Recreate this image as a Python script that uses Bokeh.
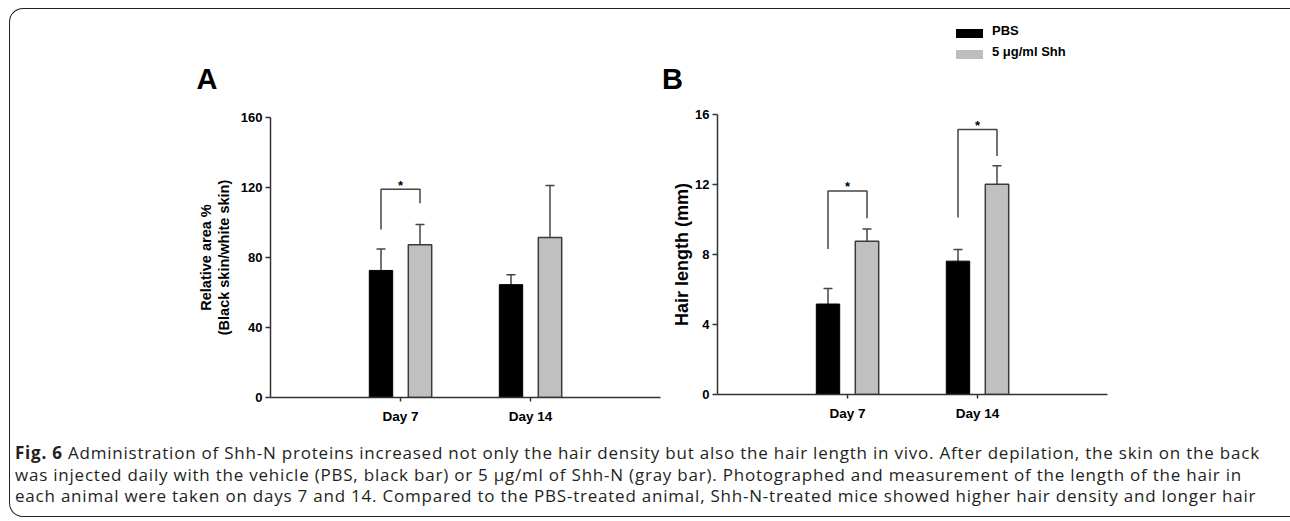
from bokeh.plotting import figure
from bokeh.models import (Range1d, FixedTicker, ColumnDataSource, Whisker, TeeHead,
                          Div, InlineStyleSheet)
from bokeh.layouts import row, column
from bokeh.core.properties import value
from bokeh.embed import file_html
from bokeh.resources import INLINE

# ---------------- data ----------------
days = ["Day 7", "Day 14"]
day_pos = [1, 2]

# Panel A: relative area % (black skin / white skin)
area_pbs = [72.6, 64.5]
area_pbs_err = [84.8, 70.1]
area_shh = [87.3, 91.5]
area_shh_err = [98.9, 121.1]
area_ticks = [0, 40, 80, 120, 160]

# Panel B: hair length (mm)
hair_pbs = [5.17, 7.62]
hair_pbs_err = [6.06, 8.28]
hair_shh = [8.76, 12.01]
hair_shh_err = [9.46, 13.07]
hair_ticks = [0, 4, 8, 12, 16]

# significance brackets: day, left-leg bottom, top, right-leg bottom
area_sig_day = [1]
area_sig_left = [96.0]
area_sig_top = [119.0]
area_sig_right = [111.0]

hair_sig_day = [1, 2]
hair_sig_left = [8.31, 10.11]
hair_sig_top = [11.63, 15.15]
hair_sig_right = [10.07, 13.63]

series_labels = ["PBS", "5 μg/ml Shh"]
series_colors = ["#000000", "#bdbdbd"]
caption_lines = [
    "Administration of Shh-N proteins increased not only the hair density but also the hair length in vivo. After depilation, the skin on the back",
    "was injected daily with the vehicle (PBS, black bar) or 5 μg/ml of Shh-N (gray bar). Photographed and measurement of the length of the hair in",
    "each animal were taken on days 7 and 14. Compared to the PBS-treated animal, Shh-N-treated mice showed higher hair density and longer hair",
]

# ---------------- styling ----------------
FONT = "Liberation Sans"
OFF = 0.15
BW = 0.18
GRAY = "#c0c0c0"
AX = "#333333"


def panel(ylabel, ylabel_size, pbs, pbs_err, shh, shh_err, ymax, ticks,
          sig_day, sig_l, sig_t, sig_r, width, height, mb_left, mb_right,
          mb_top, mb_bottom, ylabel_standoff):
    p = figure(width=width, height=height, output_backend="svg",
               toolbar_location=None, x_range=Range1d(0, 3),
               y_range=Range1d(0, ymax), min_border_left=mb_left,
               min_border_right=mb_right, min_border_top=mb_top,
               min_border_bottom=mb_bottom)
    p.outline_line_color = None
    p.grid.visible = False
    p.background_fill_color = "white"
    p.border_fill_color = None

    xs_pbs = [d - OFF for d in day_pos]
    xs_shh = [d + OFF for d in day_pos]
    src_pbs = ColumnDataSource(dict(x=xs_pbs, top=pbs, err=pbs_err))
    src_shh = ColumnDataSource(dict(x=xs_shh, top=shh, err=shh_err))

    for src in (src_pbs, src_shh):
        w = Whisker(source=src, base="x", lower="top", upper="err",
                    dimension="height", line_color="#444444", line_width=1.5,
                    upper_head=TeeHead(size=9, line_color="#444444", line_width=1.5),
                    lower_head=None, level="underlay")
        p.add_layout(w)

    p.vbar(x="x", top="top", width=BW, source=src_pbs, fill_color=series_colors[0],
           line_color="black", line_width=1)
    p.vbar(x="x", top="top", width=BW, source=src_shh, fill_color=GRAY,
           line_color="#3a3a3a", line_width=1.5)

    bx = [[d - OFF, d - OFF, d + OFF, d + OFF] for d in sig_day]
    by = [[l, t, t, r] for l, t, r in zip(sig_l, sig_t, sig_r)]
    p.multi_line(xs=bx, ys=by, line_color="#444444", line_width=1.5)
    p.text(x=sig_day, y=sig_t, text=["*"] * len(sig_day), text_align="center",
           text_baseline="alphabetic", y_offset=-4, text_font=value(FONT),
           text_font_style="bold", text_font_size="13px", text_color="black")

    for ax in (p.xaxis[0], p.yaxis[0]):
        ax.axis_line_color = AX
        ax.axis_line_width = 1.5
        ax.major_tick_line_color = AX
        ax.major_tick_line_width = 1.5
        ax.major_tick_in = 0
        ax.minor_tick_line_color = None
        ax.major_label_text_font = FONT
        ax.major_label_text_font_style = "bold"
        ax.major_label_text_color = "black"

    p.xaxis.ticker = FixedTicker(ticks=day_pos)
    p.xaxis.major_label_overrides = {d: lab for d, lab in zip(day_pos, days)}
    p.xaxis.major_tick_out = 4
    p.xaxis.major_label_standoff = 7
    p.xaxis.major_label_text_font_size = "13.5px"

    p.yaxis.ticker = FixedTicker(ticks=ticks)
    p.yaxis.major_tick_out = 5
    p.yaxis.major_label_standoff = 3
    p.yaxis.major_label_text_font_size = "13px"
    p.yaxis.axis_label = ylabel
    p.yaxis.axis_label_text_font = FONT
    p.yaxis.axis_label_text_font_style = "bold"
    p.yaxis.axis_label_text_font_size = ylabel_size
    p.yaxis.axis_label_text_color = "black"
    p.yaxis.axis_label_text_line_height = 1.14
    p.yaxis.axis_label_standoff = ylabel_standoff
    return p


# ---- panel A ----
pA = panel("Relative area %\n(Black skin/white skin)", "14.5px",
           area_pbs, area_pbs_err, area_shh, area_shh_err, 160, area_ticks,
           area_sig_day, area_sig_left, area_sig_top, area_sig_right,
           width=652, height=420, mb_left=260, mb_right=2, mb_top=108,
           mb_bottom=32, ylabel_standoff=6)
pA.title.text = "A"
pA.title.text_font = FONT
pA.title.text_font_size = "29px"
pA.title.text_font_style = "bold"
pA.title.text_color = "black"
pA.title.align = "left"
pA.title.offset = -74
pA.title.standoff = 45

# ---- header above panel B: panel letter + legend ----
span = "position:absolute;white-space:nowrap;line-height:1;"
header_html = (
    '<div style="position:relative;width:627px;height:90px;'
    'font-family:\'Liberation Sans\';font-weight:bold;color:#000;">'
    f'<span style="{span}left:0px;top:56px;font-size:29px;">B</span>'
    f'<span style="position:absolute;left:294px;top:19.5px;width:27px;height:9px;'
    f'background:{series_colors[0]};"></span>'
    f'<span style="{span}left:330px;top:15.4px;font-size:13px;">{series_labels[0]}</span>'
    f'<span style="position:absolute;left:294px;top:40.5px;width:27px;height:9px;'
    f'background:{series_colors[1]};"></span>'
    f'<span style="{span}left:330px;top:36.4px;font-size:13px;">{series_labels[1]}</span>'
    '</div>'
)
header = Div(text=header_html, width=627, height=90, margin=0)

# ---- panel B ----
pB = panel("Hair length (mm)", "18px",
           hair_pbs, hair_pbs_err, hair_shh, hair_shh_err, 16, hair_ticks,
           hair_sig_day, hair_sig_left, hair_sig_top, hair_sig_right,
           width=627, height=330, mb_left=55, mb_right=182, mb_top=15,
           mb_bottom=35, ylabel_standoff=0)

caption_html = (
    '<div style="font-family:\'Open Sans\';font-size:17px;line-height:21.5px;'
    'letter-spacing:0.78px;color:#231f20;white-space:nowrap;padding:8px 0 0 0;">'
    '<b>Fig. 6</b> ' + caption_lines[0] + '<br>' + caption_lines[1] + '<br>'
    + caption_lines[2] + '</div>'
)
caption = Div(text=caption_html, width=1279, height=86)

root_css = InlineStyleSheet(css=""":host {
  margin-left: 9px;
  margin-top: 8px;
  box-sizing: border-box;
  border-top: 1.5px solid #222222;
  border-left: 1.5px solid #222222;
  border-bottom: 1.5px solid #222222;
  border-right: none;
  border-top-left-radius: 14px;
  border-bottom-left-radius: 14px;
}""")
layout = column(row(pA, column(header, pB)), caption, width=1281, height=509,
                stylesheets=[root_css])

open("out.html", "w").write(file_html(layout, INLINE))
